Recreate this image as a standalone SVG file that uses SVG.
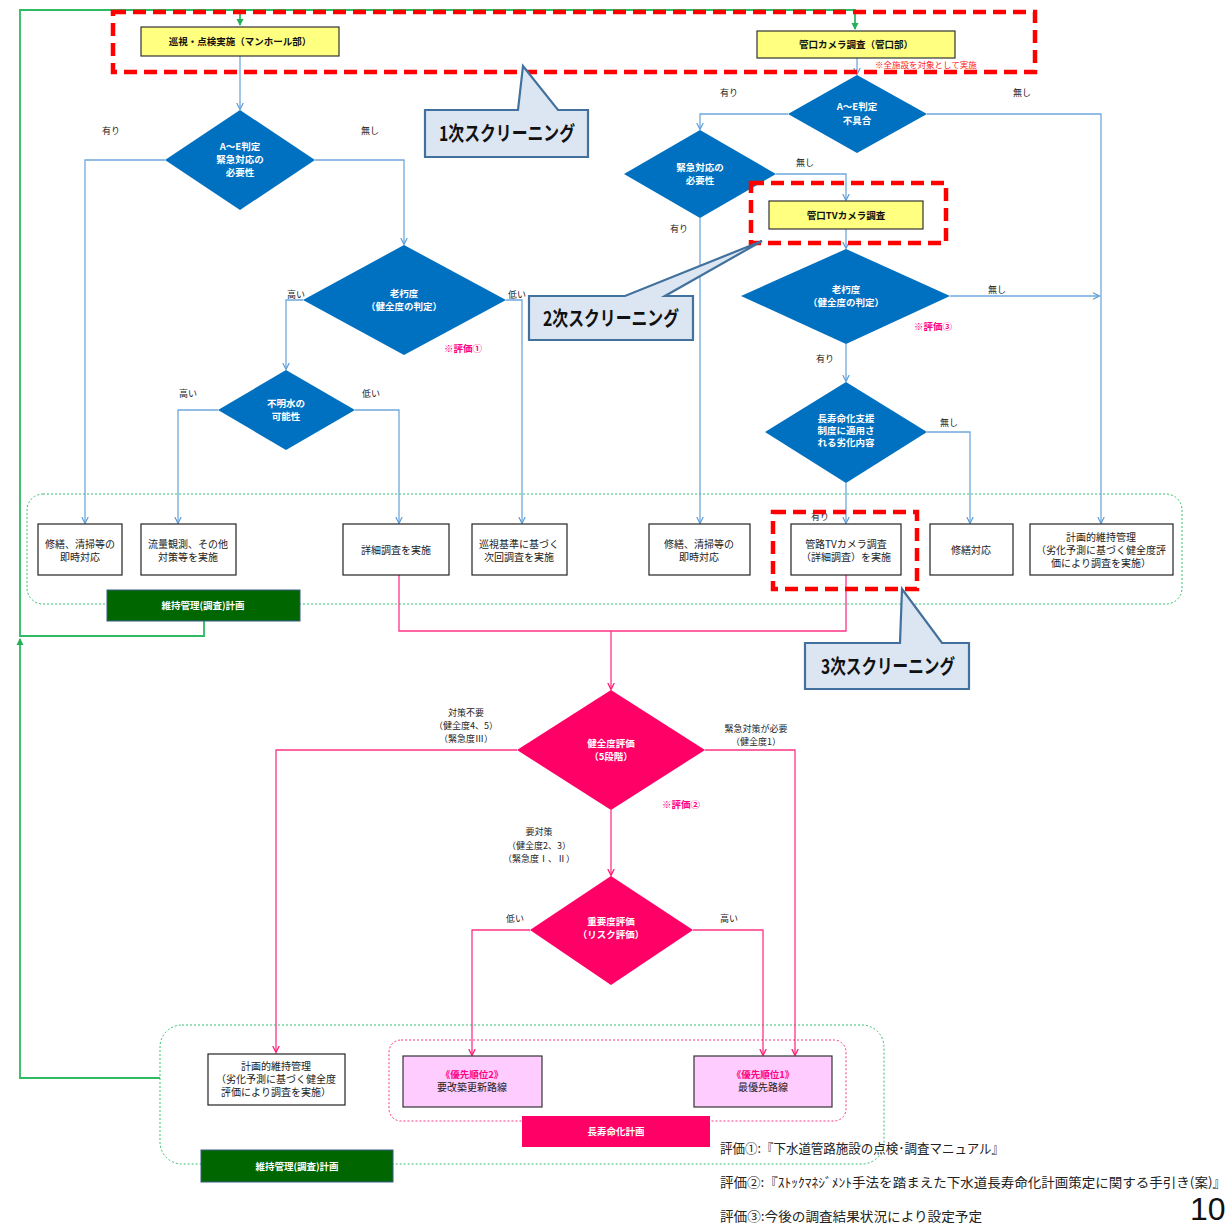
<svg xmlns="http://www.w3.org/2000/svg" width="1232" height="1227" viewBox="0 0 1232 1227">
<defs>
<marker id="ab" markerWidth="8" markerHeight="8" refX="6" refY="4" orient="auto" markerUnits="userSpaceOnUse"><path d="M0,0.8 L6.5,4 L0,7.2" fill="none" stroke="#5B9BD5" stroke-width="1.2"/></marker>
<marker id="ap" markerWidth="8" markerHeight="8" refX="6" refY="4" orient="auto" markerUnits="userSpaceOnUse"><path d="M0,0.8 L6.5,4 L0,7.2" fill="none" stroke="#FF1A75" stroke-width="1.3"/></marker>
<marker id="ag" markerWidth="8" markerHeight="8" refX="6" refY="4" orient="auto" markerUnits="userSpaceOnUse"><path d="M0,0.5 L7,4 L0,7.5 Z" fill="#22B05A"/></marker>
<style>
text{font-family:"Noto Sans CJK JP","Noto Sans",sans-serif}
.cb{fill:none;stroke:#6FA8DC;stroke-width:1.3;marker-end:url(#ab)}
.cbn{fill:none;stroke:#6FA8DC;stroke-width:1.3}
.cp{fill:none;stroke:#FF3385;stroke-width:1.3;marker-end:url(#ap)}
.cpn{fill:none;stroke:#FF3385;stroke-width:1.3}
.cg{fill:none;stroke:#2DBA62;stroke-width:1.8}
.db{fill:#0070C0}
.dp{fill:#FF0066}
.box{fill:#fff;stroke:#222;stroke-width:1.2}
.ybox{fill:#FFFF80;stroke:#333;stroke-width:1.2}
.pbox{fill:#FFCCFF;stroke:#333;stroke-width:1.2}
.red{fill:none;stroke:#FF0000;stroke-width:4.5;stroke-dasharray:13 7}
.call{fill:#DCE6F2;stroke:#41719C;stroke-width:2.2}
.gdot{fill:none;stroke:#33C070;stroke-width:1;stroke-dasharray:2 2}
.pdot{fill:none;stroke:#FF3385;stroke-width:1;stroke-dasharray:2 2}
.dt{fill:#fff;font-size:9.5px;font-weight:bold;text-anchor:middle}
.lb{fill:#222;font-size:9px;text-anchor:middle}
.bt{fill:#222;font-size:10px;text-anchor:middle}
.yt{fill:#111;font-size:9.5px;font-weight:bold;text-anchor:middle}
.ev{fill:#FF0080;font-size:9.5px;font-weight:bold;text-anchor:middle}
.ct{fill:#111;font-size:20px;font-weight:bold;text-anchor:middle}
.wt{fill:#fff;font-size:9.5px;font-weight:bold;text-anchor:middle}
.fn{fill:#222;font-size:13px}
</style>
</defs>

<!-- dotted grouping frames -->
<g id="frames">
<rect class="gdot" x="27" y="494" width="1155" height="110" rx="16"/>
<rect class="gdot" x="160" y="1025" width="724" height="139" rx="22"/>
<rect class="pdot" x="389" y="1040" width="457" height="81" rx="12"/>
</g>

<!-- connectors -->
<g id="connectors">
<path class="cg" d="M204,621 V636 H20 V10 H855 V29" marker-end="url(#ag)"/>
<path class="cg" d="M240,10 V25" marker-end="url(#ag)"/>
<path class="cg" d="M160,1078 H20 V639" marker-end="url(#ag)"/>

<path class="cb" d="M240,56 V109"/>
<path class="cb" d="M165,160 H85 V523"/>
<path class="cb" d="M315,160 H404 V244"/>
<path class="cb" d="M303,300 H286 V369"/>
<path class="cb" d="M506,300 H522 V523"/>
<path class="cb" d="M218,410 H178 V523"/>
<path class="cb" d="M355,410 H399 V523"/>
<path class="cb" d="M857,58 V74"/>
<path class="cb" d="M788,114 H700 V129"/>
<path class="cb" d="M927,114 H1101 V523"/>
<path class="cb" d="M776,174 H846 V200"/>
<path class="cb" d="M700,218 V523"/>
<path class="cb" d="M846,229 V248"/>
<path class="cb" d="M950,296 H1099"/>
<path class="cb" d="M846,344 V381"/>
<path class="cb" d="M927,432 H970 V523"/>
<path class="cb" d="M846,483 V523"/>

<path class="cpn" d="M399,575 V631 H846 V575"/>
<path class="cp" d="M611,631 V689"/>
<path class="cp" d="M517,750 H276 V1052"/>
<path class="cp" d="M705,750 H795 V1055"/>
<path class="cp" d="M611,810 V875"/>
<path class="cp" d="M530,930 H472 V1055"/>
<path class="cp" d="M693,930 H763 V1055"/>
</g>

<!-- branch labels -->
<g id="labels">
<text class="lb" x="111" y="134">有り</text>
<text class="lb" x="370" y="134">無し</text>
<text class="lb" x="296" y="298">高い</text>
<text class="lb" x="517" y="298">低い</text>
<text class="lb" x="188" y="397">高い</text>
<text class="lb" x="371" y="397">低い</text>
<text class="lb" x="729" y="96">有り</text>
<text class="lb" x="1022" y="96">無し</text>
<text class="lb" x="805" y="166">無し</text>
<text class="lb" x="679" y="232">有り</text>
<text class="lb" x="997" y="293">無し</text>
<text class="lb" x="825" y="362">有り</text>
<text class="lb" x="949" y="426">無し</text>
<text class="lb" x="820" y="520">有り</text>
<text class="ev" x="463" y="352">※評価①</text>
<text class="ev" x="933" y="330">※評価③</text>
<text class="ev" x="681" y="808">※評価②</text>
<text x="875" y="68" style="fill:#FF2020;font-size:8.5px">※全施設を対象として実施</text>
<text class="lb" x="466" y="716">対策不要</text>
<text class="lb" x="466" y="729">（健全度4、5）</text>
<text class="lb" x="466" y="742">（緊急度Ⅲ）</text>
<text class="lb" x="756" y="732">緊急対策が必要</text>
<text class="lb" x="756" y="745">（健全度1）</text>
<text class="lb" x="539" y="835">要対策</text>
<text class="lb" x="539" y="849">（健全度2、3）</text>
<text class="lb" x="539" y="862">（緊急度Ⅰ、Ⅱ）</text>
<text class="lb" x="515" y="922">低い</text>
<text class="lb" x="729" y="922">高い</text>
</g>

<!-- top process boxes -->
<g id="n-junshi"><rect class="ybox" x="141" y="27" width="198" height="29"/><text class="yt" x="240" y="45">巡視・点検実施（マンホール部）</text></g>
<g id="n-kanko"><rect class="ybox" x="757" y="31" width="198" height="27"/><text class="yt" x="856" y="48">管口カメラ調査（管口部）</text></g>
<g id="n-tv"><rect class="ybox" x="769" y="201" width="154" height="28"/><text class="yt" x="846" y="219">管口TVカメラ調査</text></g>

<!-- diamonds -->
<g id="d1"><polygon class="db" points="240,110 315,160 240,210 165,160"/><text class="dt" x="240" y="150">A～E判定</text><text class="dt" x="240" y="163">緊急対応の</text><text class="dt" x="240" y="176">必要性</text></g>
<g id="d2"><polygon class="db" points="404,245 506,300 404,355 303,300"/><text class="dt" x="404" y="297">老朽度</text><text class="dt" x="404" y="310">（健全度の判定）</text></g>
<g id="d3"><polygon class="db" points="286,370 355,410 286,450 218,410"/><text class="dt" x="286" y="407">不明水の</text><text class="dt" x="286" y="420">可能性</text></g>
<g id="d4"><polygon class="db" points="857,75 927,114 857,153 788,114"/><text class="dt" x="857" y="110">A～E判定</text><text class="dt" x="857" y="124">不具合</text></g>
<g id="d5"><polygon class="db" points="700,130 776,174 700,218 624,174"/><text class="dt" x="700" y="171">緊急対応の</text><text class="dt" x="700" y="184">必要性</text></g>
<g id="d6"><polygon class="db" points="846,249 950,296 846,344 741,296"/><text class="dt" x="846" y="293">老朽度</text><text class="dt" x="846" y="306">（健全度の判定）</text></g>
<g id="d7"><polygon class="db" points="846,382 927,432 846,483 765,432"/><text class="dt" x="846" y="422">長寿命化支援</text><text class="dt" x="846" y="434">制度に適用さ</text><text class="dt" x="846" y="446">れる劣化内容</text></g>
<g id="d8"><polygon class="dp" points="611,690 705,750 611,810 517,750"/><text class="dt" x="611" y="747">健全度評価</text><text class="dt" x="611" y="760">（5段階）</text></g>
<g id="d9"><polygon class="dp" points="611,876 693,930 611,985 530,930"/><text class="dt" x="611" y="925">重要度評価</text><text class="dt" x="611" y="938">（リスク評価）</text></g>

<!-- result boxes row -->
<g id="b1"><rect class="box" x="38" y="524" width="84" height="51"/><text class="bt" x="80" y="548">修繕、清掃等の</text><text class="bt" x="80" y="561">即時対応</text></g>
<g id="b2"><rect class="box" x="141" y="524" width="95" height="51"/><text class="bt" x="188" y="548">流量観測、その他</text><text class="bt" x="188" y="561">対策等を実施</text></g>
<g id="b3"><rect class="box" x="343" y="524" width="106" height="51"/><text class="bt" x="396" y="554">詳細調査を実施</text></g>
<g id="b4"><rect class="box" x="472" y="524" width="95" height="51"/><text class="bt" x="519" y="548">巡視基準に基づく</text><text class="bt" x="519" y="561">次回調査を実施</text></g>
<g id="b5"><rect class="box" x="649" y="524" width="101" height="51"/><text class="bt" x="699" y="548">修繕、清掃等の</text><text class="bt" x="699" y="561">即時対応</text></g>
<g id="b6"><rect class="box" x="791" y="524" width="110" height="51"/><text class="bt" x="846" y="548">管路TVカメラ調査</text><text class="bt" x="846" y="561">（詳細調査）を実施</text></g>
<g id="b7"><rect class="box" x="930" y="524" width="83" height="51"/><text class="bt" x="971" y="554">修繕対応</text></g>
<g id="b8"><rect class="box" x="1030" y="524" width="143" height="51"/><text class="bt" x="1101" y="541">計画的維持管理</text><text class="bt" x="1101" y="554">（劣化予測に基づく健全度評</text><text class="bt" x="1101" y="567">価により調査を実施）</text></g>

<g id="g-top"><rect x="107" y="590" width="193" height="31" fill="#006600" stroke="#385D8A" stroke-width="1"/><text class="wt" x="203" y="609">維持管理(調査)計画</text></g>

<!-- bottom boxes -->
<g id="b9"><rect class="box" x="208" y="1054" width="137" height="51"/><text class="bt" x="276" y="1070">計画的維持管理</text><text class="bt" x="276" y="1083">（劣化予測に基づく健全度</text><text class="bt" x="276" y="1096">評価により調査を実施）</text></g>
<g id="p2"><rect class="pbox" x="403" y="1056" width="139" height="51"/><text class="ev" x="472" y="1078">《優先順位2》</text><text class="bt" x="472" y="1091">要改築更新路線</text></g>
<g id="p1"><rect class="pbox" x="694" y="1056" width="138" height="51"/><text class="ev" x="763" y="1078">《優先順位1》</text><text class="bt" x="763" y="1091">最優先路線</text></g>
<g id="pk"><rect x="522" y="1116" width="188" height="31" fill="#FF0066"/><text class="wt" x="616" y="1135">長寿命化計画</text></g>
<g id="g-bot"><rect x="201" y="1150" width="192" height="32" fill="#006600" stroke="#385D8A" stroke-width="1"/><text class="wt" x="297" y="1170">維持管理(調査)計画</text></g>

<!-- screening highlights -->
<g id="screen">
<rect class="red" x="113" y="12" width="922" height="60"/>
<rect class="red" x="751" y="183" width="195" height="60"/>
<rect class="red" x="773" y="512" width="144" height="77"/>
</g>
<g id="c1"><path class="call" d="M425,110 H518 L523,66 L558,110 H588 V157 H425 Z"/><text class="ct" x="507" y="141" textLength="136" lengthAdjust="spacingAndGlyphs">1次スクリーニング</text></g>
<g id="c2"><path class="call" d="M529,296 H625 L762,241 L665,296 H693 V340 H529 Z"/><text class="ct" x="611" y="326" textLength="136" lengthAdjust="spacingAndGlyphs">2次スクリーニング</text></g>
<g id="c3"><path class="call" d="M805,643 H900 L902,589 L942,643 H969 V689 H805 Z"/><text class="ct" x="888" y="674" textLength="134" lengthAdjust="spacingAndGlyphs">3次スクリーニング</text></g>

<!-- footnotes -->
<g id="notes">
<text class="fn" x="720" y="1153" textLength="284" lengthAdjust="spacingAndGlyphs">評価①:『下水道管路施設の点検･調査マニュアル』</text>
<text class="fn" x="720" y="1187" textLength="506" lengthAdjust="spacingAndGlyphs">評価②:『ｽﾄｯｸﾏﾈｼﾞﾒﾝﾄ手法を踏まえた下水道長寿命化計画策定に関する手引き(案)』</text>
<text class="fn" x="720" y="1221" textLength="262" lengthAdjust="spacingAndGlyphs">評価③:今後の調査結果状況により設定予定</text>
<text x="1190" y="1220" style="font-family:'Liberation Sans',Arial,sans-serif;font-size:32px;fill:#111">10</text>
</g>
</svg>
